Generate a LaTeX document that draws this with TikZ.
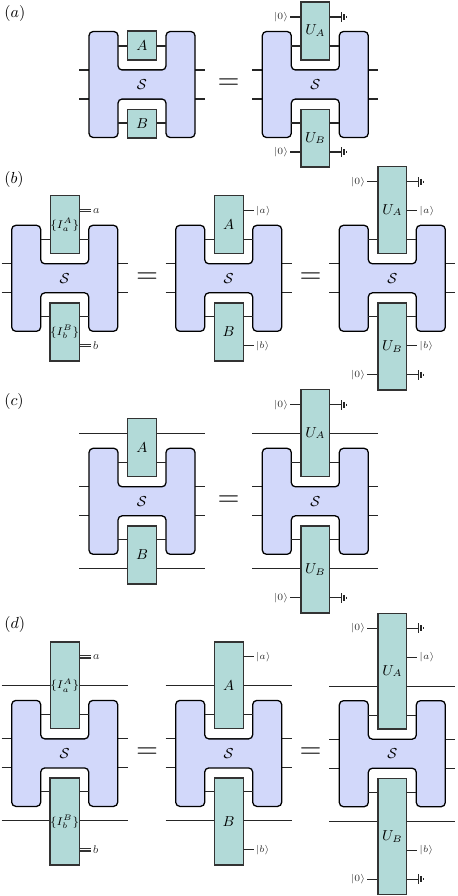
\documentclass[tikz,border=0pt]{standalone}
\usepackage{amsmath,amssymb}
\usepackage{tikz}
\definecolor{bodyblue}{HTML}{D2D8FA}
\definecolor{gateteal}{HTML}{B2DAD8}
\tikzset{
	wire/.style={black!85,line width=0.7pt},
	hbody/.style={draw=black,fill=bodyblue,line width=0.8pt,rounded corners=2.6pt},
	gateone/.style={draw=black!80,fill=gateteal,line width=0.85pt,inner sep=0pt,font=\small,minimum width=18.1pt,minimum height=18.1pt},
	gatetwo/.style={gateone,minimum height=36.2pt},
	gatethree/.style={gateone,minimum height=54.3pt},
	gatefour/.style={gateone,minimum height=72.4pt},
	setlab/.style={font=\fontsize{7}{8}\selectfont},
	ketlab/.style={font=\fontsize{6}{7}\selectfont,inner sep=1pt,text=black!80},
	classlab/.style={font=\fontsize{7}{8}\selectfont,inner sep=1pt,text=black!80},
	classwire/.style={black!80,double=white,double distance=0.6pt,line width=0.75pt},
	eqsign/.style={font=\LARGE,scale=1.08,inner sep=0pt},
	panel/.style={anchor=west,inner sep=0pt}
}

% H-shaped block with its outer wires and named levels
\newcommand{\hblock}[3]{
	\begin{scope}[shift={(#2,#3)}]
		\draw[wire] (-63,-14.5) -- (63,-14.5);
		\draw[wire] (-63,14.5) -- (63,14.5);
		\draw[hbody] (-53,-53) -- (-24,-53) -- (-24,-14.5) -- (24,-14.5) -- (24,-53) -- (53,-53)
		-- (53,53) -- (24,53) -- (24,14.5) -- (-24,14.5) -- (-24,53) -- (-53,53) -- cycle;
		\node[font=\small] (#1) at (0,0) {$\mathcal{S}$};
		% attachment points
		\coordinate (#1-n) at (0,-24);
		\coordinate (#1-s) at (0,24);
		\coordinate (#1-tl) at (-24,-38.5);
		\coordinate (#1-tr) at (24,-38.5);
		\coordinate (#1-bl) at (-24,38.5);
		\coordinate (#1-br) at (24,38.5);
		\coordinate (#1-ul) at (-63,-67.5);
		\coordinate (#1-ur) at (63,-67.5);
		\coordinate (#1-dl) at (-63,67.5);
		\coordinate (#1-dr) at (63,67.5);
		\coordinate (#1-u2) at (0,-96.5);
		\coordinate (#1-u3) at (0,-125.5);
		\coordinate (#1-d2) at (0,96.5);
		\coordinate (#1-d3) at (0,125.5);
	\end{scope}
}
% wires on both sides of a gate
\newcommand{\sidewires}[3]{
	\draw[wire] (#2) -- (#2 -| #1.west);
	\draw[wire] (#1.east |- #3) -- (#3);
}
\newcommand{\ketin}[3]{
	\path (#1.west |- #2) ++(-10,0) node[ketlab,anchor=east] (#1-#2-k) {#3};
	\draw[wire] (#1.west |- #2) -- (#1-#2-k.east);
}
\newcommand{\ketout}[3]{
	\path (#1.east |- #2) ++(10,0) node[ketlab,anchor=west] (#1-#2-k) {#3};
	\draw[wire] (#1.east |- #2) -- (#1-#2-k.west);
}
\newcommand{\classout}[3]{
	\path (#1.east |- #2) ++(11,0) node[classlab,anchor=west] (#1-#2-k) {#3};
	\draw[classwire] (#1.east |- #2) -- (#1-#2-k.west);
}
\newcommand{\ground}[2]{
	\path (#1.east |- #2) ++(11,0) coordinate (#1-g);
	\draw[wire] (#1.east |- #2) -- (#1-g);
	\draw[wire,line width=0.95pt] (#1-g) ++(0,-4.8) -- ++(0,9.6);
	\draw[wire,line width=0.95pt] (#1-g) ++(2.4,-3) -- ++(0,6);
	\draw[wire,line width=0.95pt] (#1-g) ++(4.8,-1.2) -- ++(0,2.4);
}

\begin{document}
\begin{tikzpicture}[x=0.625pt,y=-0.625pt]
	\useasboundingbox (0,0) rectangle (457,896);
	
	%--- panel (a) ---
	\node[panel] (lab-a) at (4,13) {$(a)$};
	\hblock{s1}{142}{84.5}
	\node[gateone,anchor=south] (a1) at (s1-n) {$A$};
	\node[gateone,anchor=north] (b1) at (s1-s) {$B$};
	\sidewires{a1}{s1-tl}{s1-tr}
	\sidewires{b1}{s1-bl}{s1-br}
	\node[eqsign] (eq1) at (228.5,84.5) {$=$};
	\hblock{s2}{315.3}{84.5}
	\node[gatetwo,anchor=south] (ua2) at (s2-n) {$U_A$};
	\node[gatetwo,anchor=north] (ub2) at (s2-s) {$U_B$};
	\sidewires{ua2}{s2-tl}{s2-tr}
	\sidewires{ub2}{s2-bl}{s2-br}
	\ketin{ua2}{s2-ul}{$|0\rangle$}
	\ground{ua2}{s2-ur}
	\ketin{ub2}{s2-dl}{$|0\rangle$}
	\ground{ub2}{s2-dr}
	
	%--- panel (b) ---
	\node[panel] (lab-b) at (4,179) {$(b)$};
	\hblock{s3}{64.7}{278.3}
	\node[gatetwo,anchor=south,setlab] (ia3) at (s3-n) {$\{I_a^A\}$};
	\node[gatetwo,anchor=north,setlab] (ib3) at (s3-s) {$\{I_b^B\}$};
	\sidewires{ia3}{s3-tl}{s3-tr}
	\sidewires{ib3}{s3-bl}{s3-br}
	\classout{ia3}{s3-ur}{$a$}
	\classout{ib3}{s3-dr}{$b$}
	\node[eqsign] (eq2) at (147,278) {$=$};
	\hblock{s4}{228.7}{278.3}
	\node[gatetwo,anchor=south] (a4) at (s4-n) {$A$};
	\node[gatetwo,anchor=north] (b4) at (s4-s) {$B$};
	\sidewires{a4}{s4-tl}{s4-tr}
	\sidewires{b4}{s4-bl}{s4-br}
	\ketout{a4}{s4-ur}{$|a\rangle$}
	\ketout{b4}{s4-dr}{$|b\rangle$}
	\node[eqsign] (eq3) at (310.7,278) {$=$};
	\hblock{s5}{392.3}{278.3}
	\node[gatethree,anchor=south] (ua5) at (s5-n) {$U_A$};
	\node[gatethree,anchor=north] (ub5) at (s5-s) {$U_B$};
	\sidewires{ua5}{s5-tl}{s5-tr}
	\sidewires{ub5}{s5-bl}{s5-br}
	\ketin{ua5}{s5-u2}{$|0\rangle$}
	\ground{ua5}{s5-u2}
	\ketout{ua5}{s5-ur}{$|a\rangle$}
	\ketout{ub5}{s5-dr}{$|b\rangle$}
	\ketin{ub5}{s5-d2}{$|0\rangle$}
	\ground{ub5}{s5-d2}
	
	%--- panel (c) ---
	\node[panel] (lab-c) at (4,401) {$(c)$};
	\hblock{s6}{142}{501.3}
	\node[gatetwo,anchor=south] (a6) at (s6-n) {$A$};
	\node[gatetwo,anchor=north] (b6) at (s6-s) {$B$};
	\sidewires{a6}{s6-tl}{s6-tr}
	\sidewires{b6}{s6-bl}{s6-br}
	\sidewires{a6}{s6-ul}{s6-ur}
	\sidewires{b6}{s6-dl}{s6-dr}
	\node[eqsign] (eq4) at (228.7,501.5) {$=$};
	\hblock{s7}{315.3}{501.3}
	\node[gatethree,anchor=south] (ua7) at (s7-n) {$U_A$};
	\node[gatethree,anchor=north] (ub7) at (s7-s) {$U_B$};
	\sidewires{ua7}{s7-tl}{s7-tr}
	\sidewires{ub7}{s7-bl}{s7-br}
	\sidewires{ua7}{s7-ul}{s7-ur}
	\sidewires{ub7}{s7-dl}{s7-dr}
	\ketin{ua7}{s7-u2}{$|0\rangle$}
	\ground{ua7}{s7-u2}
	\ketin{ub7}{s7-d2}{$|0\rangle$}
	\ground{ub7}{s7-d2}
	
	%--- panel (d) ---
	\node[panel] (lab-d) at (4,624) {$(d)$};
	\hblock{s8}{64.7}{753.4}
	\node[gatethree,anchor=south,setlab] (ia8) at (s8-n) {$\{I_a^A\}$};
	\node[gatethree,anchor=north,setlab] (ib8) at (s8-s) {$\{I_b^B\}$};
	\sidewires{ia8}{s8-tl}{s8-tr}
	\sidewires{ib8}{s8-bl}{s8-br}
	\sidewires{ia8}{s8-ul}{s8-ur}
	\sidewires{ib8}{s8-dl}{s8-dr}
	\classout{ia8}{s8-u2}{$a$}
	\classout{ib8}{s8-d2}{$b$}
	\node[eqsign] (eq5) at (147,753) {$=$};
	\hblock{s9}{228.7}{753.4}
	\node[gatethree,anchor=south] (a9) at (s9-n) {$A$};
	\node[gatethree,anchor=north] (b9) at (s9-s) {$B$};
	\sidewires{a9}{s9-tl}{s9-tr}
	\sidewires{b9}{s9-bl}{s9-br}
	\sidewires{a9}{s9-ul}{s9-ur}
	\sidewires{b9}{s9-dl}{s9-dr}
	\ketout{a9}{s9-u2}{$|a\rangle$}
	\ketout{b9}{s9-d2}{$|b\rangle$}
	\node[eqsign] (eq6) at (310.7,753) {$=$};
	\hblock{s10}{392.3}{753.7}
	\node[gatefour,anchor=south] (ua10) at (s10-n) {$U_A$};
	\node[gatefour,anchor=north] (ub10) at (s10-s) {$U_B$};
	\sidewires{ua10}{s10-tl}{s10-tr}
	\sidewires{ub10}{s10-bl}{s10-br}
	\sidewires{ua10}{s10-ul}{s10-ur}
	\sidewires{ub10}{s10-dl}{s10-dr}
	\ketin{ua10}{s10-u3}{$|0\rangle$}
	\ground{ua10}{s10-u3}
	\ketout{ua10}{s10-u2}{$|a\rangle$}
	\ketout{ub10}{s10-d2}{$|b\rangle$}
	\ketin{ub10}{s10-d3}{$|0\rangle$}
	\ground{ub10}{s10-d3}
	
\end{tikzpicture}
\end{document}
